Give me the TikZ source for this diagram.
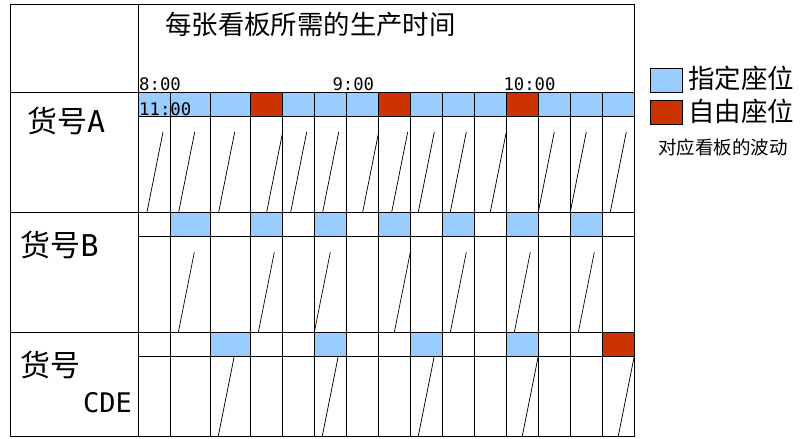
\documentclass[tikz,border=0pt]{standalone}
\usepackage{fontspec}
\newfontfamily\cjk{Noto Sans CJK SC}
\newfontfamily\monof{DejaVu Sans Mono}
\definecolor{kblue}{HTML}{99CCFF}
\definecolor{kred}{HTML}{CC3300}
\begin{document}
\begin{tikzpicture}[x=1pt,y=-1pt,
  grid/.style={line width=1pt, draw=black},
  saw/.style={line width=0.7pt, black},
  lab/.style={inner sep=0pt, anchor=west},
  tm/.style={inner sep=0pt, anchor=base west, font=\monof\fontsize{17.3}{17.3}\selectfont}]
\useasboundingbox (0,0) rectangle (812,439);
\fill[white] (0,0) rectangle (812,439);
% row A band
\foreach \a/\b/\c in {138.3/170.3/kblue, 170.3/210.3/kblue, 210.3/250.3/kblue, 250.3/282.3/kred, 282.3/314.3/kblue, 314.3/346.3/kblue, 346.3/378.3/kblue, 378.3/410.3/kred, 410.3/442.3/kblue, 442.3/474.3/kblue, 474.3/506.3/kblue, 506.3/538.3/kred, 538.3/570.3/kblue, 570.3/602.3/kblue, 602.3/634.3/kblue}
  \fill[\c] (\a,92.4) rectangle (\b,116.3);
% row B band
\foreach \a/\b/\c in {170.3/210.3/kblue, 250.3/282.3/kblue, 314.3/346.3/kblue, 378.3/410.3/kblue, 442.3/474.3/kblue, 506.3/538.3/kblue, 570.3/602.3/kblue}
  \fill[\c] (\a,212) rectangle (\b,236);
% row C band
\foreach \a/\b/\c in {210.3/250.3/kblue, 314.3/346.3/kblue, 410.3/442.3/kblue, 506.3/538.3/kblue, 602.3/634.3/kred}
  \fill[\c] (\a,332.3) rectangle (\b,356);
% grid
\draw[grid] (10,4.3) rectangle (634.3,436);
\draw[grid] (138.3,4.3) -- (138.3,436);
\foreach \y in {92.4,212,332.3} \draw[grid] (10,\y) -- (634.3,\y);
\foreach \y in {116.3,236,356} \draw[grid] (138.3,\y) -- (634.3,\y);
\foreach \x in {170.3,210.3,250.3,282.3,314.3,346.3,378.3,410.3,442.3,474.3,506.3,538.3,570.3,602.3}
  \draw[grid] (\x,92.4) -- (\x,436);
% saw-tooth lines
\foreach \x in {147,178.7,218.7,266.7,290.7,322.7,362.7,391.7,418.3,450.3,490.3,538.3,570.3,610.3}
  \draw[saw] (\x,212) -- ++(16,-80);
\foreach \x in {178.3,258.3,314.3,394.3,450.3,514.3,578.3}
  \draw[saw] (\x,332.3) -- ++(16,-80);
\foreach \x in {218.3,322.3,418.3,522.3,618.3}
  \draw[saw] (\x,436) -- ++(16,-80);
% title and times
\node[inner sep=0pt, font=\cjk\fontsize{26.4}{26.4}\selectfont] (title) at (310.4,24.7) {每张看板所需的生产时间};
\node[tm] (t8) at (139,90.7) {8:00};
\node[tm] (t9) at (332.3,90.7) {9:00};
\node[tm] (t10) at (503.3,90.7) {10:00};
\node[tm] (t11) at (139,115.5) {11:00};
% row labels
\node[lab] (la) at (27,121) {\cjk\fontsize{30}{30}\selectfont 货号\monof A};
\node[lab] (lb) at (20.5,245) {\cjk\fontsize{30}{30}\selectfont 货号\monof B};
\node[lab] (lc) at (20.5,365) {\cjk\fontsize{30}{30}\selectfont 货号};
\node[lab] (lcde) at (83,403) {\monof\fontsize{27}{27}\selectfont CDE};
% legend
\draw[grid, fill=kblue] (650,68.3) rectangle (682.7,92.3);
\draw[grid, fill=kred] (650,100.7) rectangle (682.7,124);
\node[lab, font=\cjk\fontsize{26.5}{26.5}\selectfont] (lg1) at (688,78) {指定座位};
\node[lab, font=\cjk\fontsize{26.5}{26.5}\selectfont] (lg2) at (688,111) {自由座位};
\node[inner sep=0pt, font=\cjk\fontsize{18.5}{18.5}\selectfont] (lg3) at (723,147) {对应看板的波动};
\end{tikzpicture}
\end{document}
